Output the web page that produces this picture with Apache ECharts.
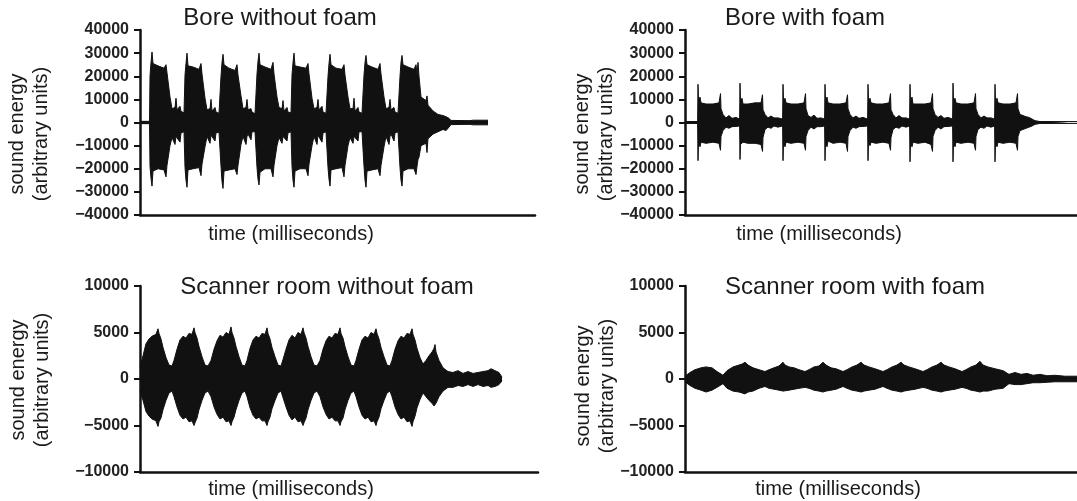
<!DOCTYPE html>
<html>
<head>
<meta charset="utf-8">
<script src="https://cdn.jsdelivr.net/npm/echarts@6/dist/echarts.min.js"></script>
<style>
  html, body { margin: 0; padding: 0; background: #fff; }
  #chart { width: 1077px; height: 501px; }
</style>
</head>
<body>
<div id="chart"></div>
<script>
// envelope of each recording: time (ms, arbitrary), upper and lower sound energy
var p1Time = [0, 9.5,
  10, 11, 12, 13, 18, 24, 26, 27, 30, 32, 35, 36, 37, 40, 41, 44,
  45, 46, 47, 48, 53, 59, 61, 62, 65, 67, 70, 71, 72, 75, 76, 79,
  81, 82, 83, 84, 89, 95, 97, 98, 101, 103, 106, 107, 108, 111, 112, 115,
  117, 118, 119, 120, 125, 131, 133, 134, 137, 139, 142, 143, 144, 147, 148, 151,
  152, 153, 154, 155, 160, 166, 168, 169, 172, 174, 177, 178, 179, 182, 183, 186,
  188, 189, 190, 191, 196, 202, 204, 205, 208, 210, 213, 214, 215, 218, 219, 222,
  224, 225, 226, 227, 232, 238, 240, 241, 244, 246, 249, 250, 251, 254, 255, 258,
  260, 261, 262, 263, 268, 274, 276, 277,
  278, 279, 281, 286, 287, 288, 293, 298, 303, 306, 309, 311, 330, 333, 348];
var p1Upper = [500, 500,
  20000, 26000, 30500, 25500, 24500, 23500, 25000, 21500, 11000, 6000, 6500, 10500, 5500, 7000, 4800, 4200,
  20500, 25500, 30000, 24500, 24000, 23000, 25500, 21000, 10500, 5500, 6000, 10000, 5000, 6500, 4500, 4000,
  20000, 26000, 29500, 25000, 23500, 22500, 25000, 20500, 11500, 6000, 6500, 10000, 5500, 6000, 4500, 3800,
  21000, 26500, 30000, 25000, 24000, 23000, 26000, 21000, 11000, 6500, 6000, 9500, 5000, 6500, 4500, 4200,
  20500, 26000, 30000, 24500, 24000, 23500, 25500, 21000, 10500, 6000, 6500, 10000, 5500, 7000, 4500, 4000,
  20000, 25500, 29500, 25000, 23500, 23000, 25000, 20500, 11000, 6000, 6000, 10500, 5000, 6500, 4500, 4000,
  20500, 26000, 29000, 25000, 24000, 23000, 25500, 21000, 11000, 6000, 6500, 10000, 5500, 6500, 4500, 4000,
  20000, 26000, 29000, 25000, 24000, 23000, 25000, 21000,
  26000, 20000, 11000, 9500, 11500, 7500, 5000, 3500, 3000, 2500, 1800, 900, 800, 1000, 1000];
var p1Lower = [-500, -500,
  -19000, -24000, -27500, -21000, -20000, -20500, -23500, -18500, -10000, -6500, -9500, -6000, -5500, -8500, -4500, -4000,
  -19500, -25000, -28000, -20500, -20000, -19500, -23000, -18000, -10500, -6000, -9000, -5500, -5000, -8000, -4500, -4200,
  -19000, -25500, -28500, -21000, -20500, -20000, -22500, -18500, -9500, -6000, -9500, -6000, -5000, -7500, -4000, -4000,
  -19500, -24500, -27000, -21500, -20000, -20000, -23500, -18500, -10000, -6500, -9000, -6000, -5500, -8000, -4500, -4000,
  -19000, -25000, -28000, -21000, -20000, -20000, -23000, -18000, -10000, -6000, -9500, -5500, -5000, -8500, -4500, -4000,
  -19500, -24500, -27500, -20500, -20000, -19500, -23500, -18500, -10000, -6500, -9000, -6000, -5500, -8000, -4000, -4000,
  -19000, -25000, -28000, -21000, -20500, -20000, -23000, -18500, -10500, -6000, -9500, -6000, -5000, -8000, -4500, -4000,
  -19500, -25000, -27500, -21000, -20000, -20000, -22500, -19000,
  -16000, -15000, -10000, -9000, -13000, -7000, -5000, -4000, -3000, -3500, -2000, -900, -800, -1000, -1000];

var p2Time = [0, 12.6,
  13, 13.5, 15, 16, 21, 28, 34, 35.5, 36, 38, 41, 44, 47, 51, 54.6,
  55, 55.5, 57, 58, 63, 70, 76, 77.5, 78, 80, 83, 86, 89, 93, 97.6,
  98, 98.5, 100, 101, 106, 113, 119, 120.5, 121, 123, 126, 129, 132, 136, 139.6,
  140, 140.5, 142, 143, 148, 155, 161, 162.5, 163, 165, 168, 171, 174, 178, 182.6,
  183, 183.5, 185, 186, 191, 198, 204, 205.5, 206, 208, 211, 214, 217, 221, 224.6,
  225, 225.5, 227, 228, 233, 240, 246, 247.5, 248, 250, 253, 256, 259, 263, 267.6,
  268, 268.5, 270, 271, 276, 283, 289, 290.5, 291, 293, 296, 299, 302, 306, 309.6,
  310, 310.5, 312, 313, 318, 325, 331, 332.5, 333, 335, 338, 341, 344, 347, 350, 355, 392];
var p2Upper = [400, 400,
  16500, 9500, 11000, 8500, 8000, 8000, 8500, 12500, 6000, 3500, 2000, 3000, 1800, 2200, 1500,
  17000, 9000, 10500, 8000, 8000, 8500, 8500, 12000, 5500, 3500, 2000, 2800, 2000, 2000, 1500,
  16500, 9500, 10500, 8500, 8000, 8000, 8500, 12500, 6000, 3000, 2200, 3200, 1800, 2000, 1500,
  16500, 9000, 11000, 8500, 8000, 8000, 8500, 12000, 6000, 3500, 2000, 2800, 1800, 2200, 1500,
  16500, 9500, 10500, 8500, 8000, 8000, 8500, 12500, 5500, 3500, 2000, 3000, 2000, 2000, 1500,
  16500, 9000, 11000, 8000, 8000, 8000, 8500, 12500, 6000, 3500, 2200, 3000, 1800, 2200, 1500,
  17000, 9500, 10500, 8500, 8000, 8000, 8500, 12500, 6000, 3500, 2000, 2800, 2000, 2000, 1500,
  16500, 9000, 10500, 8500, 8000, 8000, 8500, 12500, 6000, 3500, 3000, 2500, 2200, 1500, 800, 400, 400];
var p2Lower = [-400, -400,
  -16500, -9000, -10500, -8500, -9000, -8500, -9000, -12000, -6000, -3500, -2000, -2500, -1800, -1700, -1500,
  -16000, -9500, -10000, -8500, -9000, -9000, -9500, -12500, -6500, -3000, -2000, -2500, -1500, -2000, -1500,
  -16500, -9000, -10500, -8500, -9000, -8500, -9000, -12000, -6000, -3500, -2000, -2800, -1800, -1800, -1500,
  -16500, -9000, -10500, -8000, -9000, -8500, -9000, -12500, -6000, -3500, -2000, -2500, -1800, -1700, -1500,
  -16500, -9000, -10000, -8500, -9000, -8500, -9000, -12000, -6500, -3000, -2000, -2500, -1500, -2000, -1500,
  -17000, -9500, -10500, -8500, -9000, -8500, -9500, -12500, -6000, -3500, -2000, -2800, -1800, -1700, -1500,
  -17000, -9000, -10500, -8500, -9000, -8500, -9000, -12000, -6000, -3000, -2000, -2500, -1500, -2000, -1500,
  -17000, -9000, -10500, -8500, -9000, -8500, -9000, -12000, -6000, -3500, -3000, -2500, -2000, -1500, -800, -400, -400];

var p3Time = [0, 3, 6, 9, 12, 16, 18, 19, 21, 23, 26, 29, 32,
  34, 37, 40, 43, 46, 49, 52, 54, 55, 57, 59, 62, 65, 68,
  71, 74, 77, 80, 83, 86, 89, 91, 92, 94, 96, 99, 102, 105,
  107, 110, 113, 116, 119, 122, 125, 127, 128, 130, 132, 135, 138, 141,
  143, 146, 149, 152, 155, 158, 161, 163, 164, 166, 168, 171, 174, 177,
  180, 183, 186, 189, 192, 195, 198, 200, 201, 203, 205, 208, 211, 214,
  216, 219, 222, 225, 228, 231, 234, 236, 237, 239, 241, 244, 247, 250,
  252, 255, 258, 261, 264, 267, 270, 272, 273, 275, 277, 280, 283,
  286, 289, 292, 294, 295, 296, 299, 303,
  308, 313, 318, 323, 328, 333, 338, 343, 348, 351, 355, 359, 362];
var p3Upper = [1300, 2500, 3800, 4300, 4600, 4800, 5400, 4900, 4300, 3400, 2300, 1500, 1400,
  2000, 3200, 4200, 4600, 4400, 4900, 4800, 5500, 5000, 4400, 3500, 2400, 1500, 1400,
  2000, 3200, 4100, 4700, 4500, 5000, 4800, 5600, 5000, 4400, 3500, 2400, 1500, 1400,
  2000, 3300, 4200, 4600, 4400, 4900, 4800, 5500, 4900, 4300, 3400, 2400, 1500, 1400,
  2100, 3200, 4200, 4700, 4400, 5000, 4800, 5500, 5000, 4400, 3500, 2400, 1500, 1400,
  2000, 3200, 4100, 4600, 4400, 4900, 4800, 5500, 4900, 4400, 3500, 2400, 1500, 1400,
  2000, 3200, 4200, 4600, 4400, 5000, 4800, 5400, 4900, 4300, 3400, 2400, 1500, 1400,
  2000, 3200, 4100, 4600, 4400, 4900, 4800, 5400, 4800, 4200, 3300, 2300, 1600,
  2000, 2500, 2900, 3300, 3700, 2900, 2000, 1200,
  800, 700, 900, 600, 800, 600, 700, 800, 900, 1100, 900, 700, 200];
var p3Lower = [-1300, -2300, -3500, -4000, -4300, -4500, -5100, -4600, -4200, -3300, -2300, -1500, -1300,
  -1900, -3000, -3900, -4300, -4100, -4600, -4500, -5000, -4700, -4200, -3300, -2300, -1500, -1300,
  -1900, -3000, -3800, -4300, -4100, -4600, -4500, -5000, -4600, -4100, -3300, -2300, -1500, -1300,
  -1900, -3100, -3900, -4300, -4100, -4500, -4500, -5000, -4600, -4100, -3200, -2300, -1500, -1300,
  -2000, -3000, -3900, -4400, -4100, -4600, -4500, -5000, -4700, -4200, -3300, -2300, -1500, -1300,
  -1900, -3000, -3800, -4300, -4100, -4500, -4500, -5000, -4600, -4200, -3300, -2300, -1500, -1300,
  -1900, -3000, -3900, -4300, -4100, -4600, -4500, -5000, -4600, -4100, -3200, -2300, -1500, -1300,
  -1900, -3000, -3800, -4300, -4100, -4600, -4500, -5100, -4600, -4000, -3100, -2200, -1500,
  -1900, -2300, -2600, -2900, -3000, -2600, -1900, -1300,
  -900, -900, -700, -800, -600, -800, -600, -800, -700, -900, -800, -600, -200];

var p4Time = [0, 5, 10, 16, 21, 23, 27, 32, 38,
  42, 48, 54, 57, 60, 63, 68, 74, 80,
  84, 89, 94, 98, 100, 104, 109, 114, 120,
  124, 129, 134, 138, 141, 146, 151, 158,
  162, 167, 172, 176, 179, 184, 190, 198,
  202, 207, 212, 216, 219, 224, 230, 238,
  242, 247, 252, 256, 259, 264, 270, 277,
  281, 286, 291, 295, 298, 303, 310, 318, 324,
  330, 336, 342, 348, 355, 362, 370, 380, 392];
var p4Upper = [300, 700, 1000, 1200, 1300, 1500, 1200, 800, 400,
  900, 1300, 1500, 1600, 1800, 1500, 1200, 1000, 800,
  1000, 1200, 1400, 1800, 1500, 1300, 1200, 1000, 800,
  1000, 1300, 1400, 1800, 1500, 1200, 1100, 800,
  1000, 1300, 1500, 1800, 1500, 1300, 1100, 800,
  1000, 1300, 1500, 1800, 1500, 1300, 1100, 800,
  1000, 1300, 1500, 1800, 1500, 1300, 1100, 800,
  1000, 1300, 1500, 1900, 1500, 1300, 1100, 900, 500,
  700, 500, 600, 400, 500, 350, 400, 300, 300];
var p4Lower = [-300, -700, -1000, -1200, -1400, -1300, -1200, -900, -500,
  -1000, -1300, -1400, -1500, -1600, -1400, -1300, -1000, -800,
  -1000, -1100, -1200, -1300, -1300, -1200, -1100, -1000, -900,
  -1000, -1200, -1300, -1400, -1300, -1200, -1100, -800,
  -1000, -1200, -1300, -1400, -1300, -1200, -1100, -800,
  -1000, -1200, -1300, -1400, -1300, -1200, -1100, -900,
  -1000, -1200, -1300, -1400, -1300, -1200, -1100, -900,
  -1000, -1200, -1300, -1400, -1300, -1300, -1100, -1000, -500,
  -600, -600, -500, -400, -400, -350, -300, -300, -300];

var titles = ['Bore without foam', 'Bore with foam', 'Scanner room without foam', 'Scanner room with foam'];
var yTicksBig = [-40000, 40000, 10000];   // min, max, interval
var yTicksSmall = [-10000, 10000, 5000];
var xMax = [395, 392, 398, 392];

var FONT = "'Liberation Sans', Arial, sans-serif";
var INK = '#111';

var chart = echarts.init(document.getElementById('chart'), null, { renderer: 'canvas' });

var grids = [
  { left: 140, top: 30, width: 395, height: 185 },
  { left: 685, top: 30, width: 392, height: 185 },
  { left: 140, top: 286, width: 398, height: 186 },
  { left: 685, top: 286, width: 392, height: 186 }
];

function yAxis(i, ticks) {
  return {
    gridIndex: i, type: 'value',
    min: ticks[0], max: ticks[1], interval: ticks[2],
    axisLine: { show: true, lineStyle: { color: INK, width: 2.5 } },
    axisTick: { show: true, length: 6, lineStyle: { color: INK, width: 2 } },
    axisLabel: {
      fontSize: 16, fontWeight: 'bold', color: '#222', fontFamily: FONT, margin: 11,
      formatter: function (v) { return String(v).replace('-', '\u2212'); }
    },
    splitLine: { show: false }
  };
}

function xAxis(i) {
  return {
    gridIndex: i, type: 'value', min: 0, max: xMax[i],
    axisLine: { onZero: false, lineStyle: { color: INK, width: 2.5 } },
    axisTick: { show: false }, axisLabel: { show: false }, splitLine: { show: false }
  };
}

function wave(i, times, vals, origin) {
  return {
    type: 'line', xAxisIndex: i, yAxisIndex: i,
    data: times.map(function (t, k) { return [t, vals[k]]; }),
    symbol: 'none', silent: true, animation: false,
    lineStyle: { color: INK, width: 1 },
    areaStyle: { color: INK, opacity: 1, origin: origin }
  };
}

function label(text, x, y, rotate) {
  return {
    type: 'text', x: x, y: y, rotation: rotate ? Math.PI / 2 : 0, silent: true,
    style: {
      text: text, font: '20px ' + FONT, fill: '#1a1a1a', lineHeight: 24,
      textAlign: 'center', textVerticalAlign: 'middle'
    }
  };
}

function title(text, x, y) {
  return {
    type: 'text', x: x, y: y, silent: true,
    style: { text: text, font: '24px ' + FONT, fill: '#1a1a1a', textAlign: 'center', textVerticalAlign: 'middle' }
  };
}

var yName = 'sound energy\n(arbitrary units)';

chart.setOption({
  animation: false,
  backgroundColor: '#fff',
  grid: grids,
  xAxis: [xAxis(0), xAxis(1), xAxis(2), xAxis(3)],
  yAxis: [yAxis(0, yTicksBig), yAxis(1, yTicksBig), yAxis(2, yTicksSmall), yAxis(3, yTicksSmall)],
  series: [
    wave(0, p1Time, p1Upper, -400), wave(0, p1Time, p1Lower, 400),
    wave(1, p2Time, p2Upper, -400), wave(1, p2Time, p2Lower, 400),
    wave(2, p3Time, p3Upper, -100), wave(2, p3Time, p3Lower, 100),
    wave(3, p4Time, p4Upper, -100), wave(3, p4Time, p4Lower, 100)
  ],
  graphic: [
    title(titles[0], 280, 18), title(titles[1], 805, 18),
    title(titles[2], 327, 287), title(titles[3], 855, 287),
    label('time (milliseconds)', 291, 234), label('time (milliseconds)', 819, 234),
    label('time (milliseconds)', 291, 489), label('time (milliseconds)', 838, 489),
    label(yName, 29, 134, true), label(yName, 594, 134, true),
    label(yName, 30, 380, true), label(yName, 595, 386, true)
  ]
});
</script>
</body>
</html>
